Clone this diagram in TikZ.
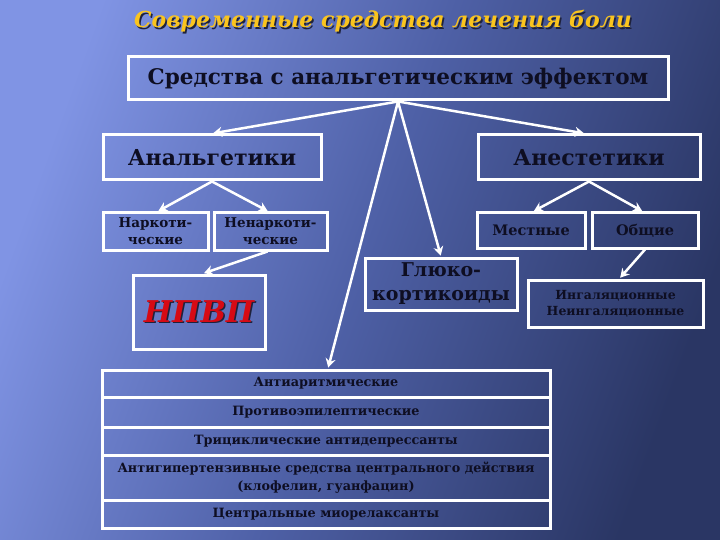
\documentclass[tikz,border=0pt]{standalone}
\usepackage{fontspec}
\setmainfont{DejaVu Serif}
\usetikzlibrary{arrows.meta,calc}
\definecolor{bgL}{RGB}{128,148,228}
\definecolor{bgM}{RGB}{78,96,166}
\definecolor{bgR}{RGB}{42,54,100}
\definecolor{ink}{RGB}{14,14,34}
\definecolor{gold}{RGB}{250,196,30}
\definecolor{shad}{RGB}{30,34,60}
\definecolor{npvpred}{RGB}{215,10,20}
\newcommand{\shadowed}[3]{\makebox[0pt][l]{\kern#3\raisebox{-#3}{\textcolor{shad}{#2}}}\textcolor{#1}{#2}}
\tikzset{
  box/.style={draw=white, line width=3pt, inner sep=0pt, text=ink, align=center, font=\bfseries},
  arr/.style={draw=white, line width=2.5pt, -{Stealth[length=9pt,width=10pt,inset=3pt]}, shorten >=1pt},
}
\begin{document}
\begin{tikzpicture}[x=1pt,y=-1pt]
\useasboundingbox (0,0) rectangle (720,540);
\shade[left color=bgL, right color=bgR, middle color=bgM, shading angle=70] (0,0) rectangle (720,540);
% title
\node (title) [font=\fontsize{22}{24}\selectfont\bfseries\itshape] at (383,22) {\shadowed{gold}{Современные средства лечения боли}{1.5pt}};
% boxes
\node (main) [box, minimum width=540pt, minimum height=43pt, font=\fontsize{21.5}{23}\selectfont\bfseries] at (398,78.5) {Средства с анальгетическим эффектом};
\node (analg) [box, minimum width=218pt, minimum height=45pt, font=\fontsize{22}{24}\selectfont\bfseries] at (212,157.5) {Анальгетики};
\node (anest) [box, minimum width=222pt, minimum height=45pt, font=\fontsize{22}{24}\selectfont\bfseries] at (589,157.5) {Анестетики};
\node (narc) [box, minimum width=105pt, minimum height=37pt, font=\fontsize{13.5}{17}\selectfont\bfseries] at (155.5,231.5) {Наркоти-\\ческие};
\node (nenarc) [box, minimum width=113pt, minimum height=37pt, font=\fontsize{13.5}{17}\selectfont\bfseries] at (270.5,231.5) {Ненаркоти-\\ческие};
\node (mest) [box, minimum width=108pt, minimum height=35pt, font=\fontsize{14.5}{15}\selectfont\bfseries] at (531,230.5) {Местные};
\node (obsh) [box, minimum width=106pt, minimum height=35pt, font=\fontsize{14.5}{15}\selectfont\bfseries] at (645,230.5) {Общие};
\node (gluko) [box, minimum width=152pt, minimum height=52pt, font=\fontsize{19}{24}\selectfont\bfseries] at (441,284) {Глюко-\\кортикоиды};
\node (ingal) [box, minimum width=175pt, minimum height=47pt, font=\fontsize{12.5}{16}\selectfont\bfseries] at (615.5,303.5) {Ингаляционные\\Неингаляционные};
\node (npvp) [box, minimum width=132pt, minimum height=74pt, font=\fontsize{30}{32}\selectfont\bfseries\itshape] at (199,312) {\shadowed{npvpred}{НПВП}{1.5pt}};
% stack
\node (r1) [box, minimum width=448pt, minimum height=27pt, font=\fontsize{12.8}{13}\selectfont\bfseries] at (326,383.5) {Антиаритмические};
\node (r2) [box, minimum width=448pt, minimum height=30pt, font=\fontsize{12.8}{13}\selectfont\bfseries] at (326,412) {Противоэпилептические};
\node (r3) [box, minimum width=448pt, minimum height=28pt, font=\fontsize{12.8}{13}\selectfont\bfseries] at (326,441) {Трициклические антидепрессанты};
\node (r4) [box, minimum width=448pt, minimum height=45pt, font=\fontsize{12.8}{18}\selectfont\bfseries] at (326,477.5) {Антигипертензивные средства центрального действия\\(клофелин, гуанфацин)};
\node (r5) [box, minimum width=448pt, minimum height=28pt, font=\fontsize{12.8}{13}\selectfont\bfseries] at (326,514) {Центральные миорелаксанты};
% arrows
\draw[arr] (main.south) -- (analg.north);
\draw[arr] (main.south) -- ($(anest.north)+(-4,0)$);
\draw[arr] (main.south) -- (gluko.north);
\draw[arr] (main.south) -- ($(r1.north)+(2,0)$);
\draw[arr] (analg.south) -- ($(narc.north)+(2,0)$);
\draw[arr] (analg.south) -- ($(nenarc.north)+(-2,0)$);
\draw[arr] ($(nenarc.south)+(-3,0)$) -- ($(npvp.north)+(4,0)$);
\draw[arr] (anest.south) -- ($(mest.north)+(2,0)$);
\draw[arr] (anest.south) -- ($(obsh.north)+(-2,0)$);
\draw[arr] (obsh.south) -- ($(ingal.north)+(4,0)$);
\end{tikzpicture}
\end{document}
